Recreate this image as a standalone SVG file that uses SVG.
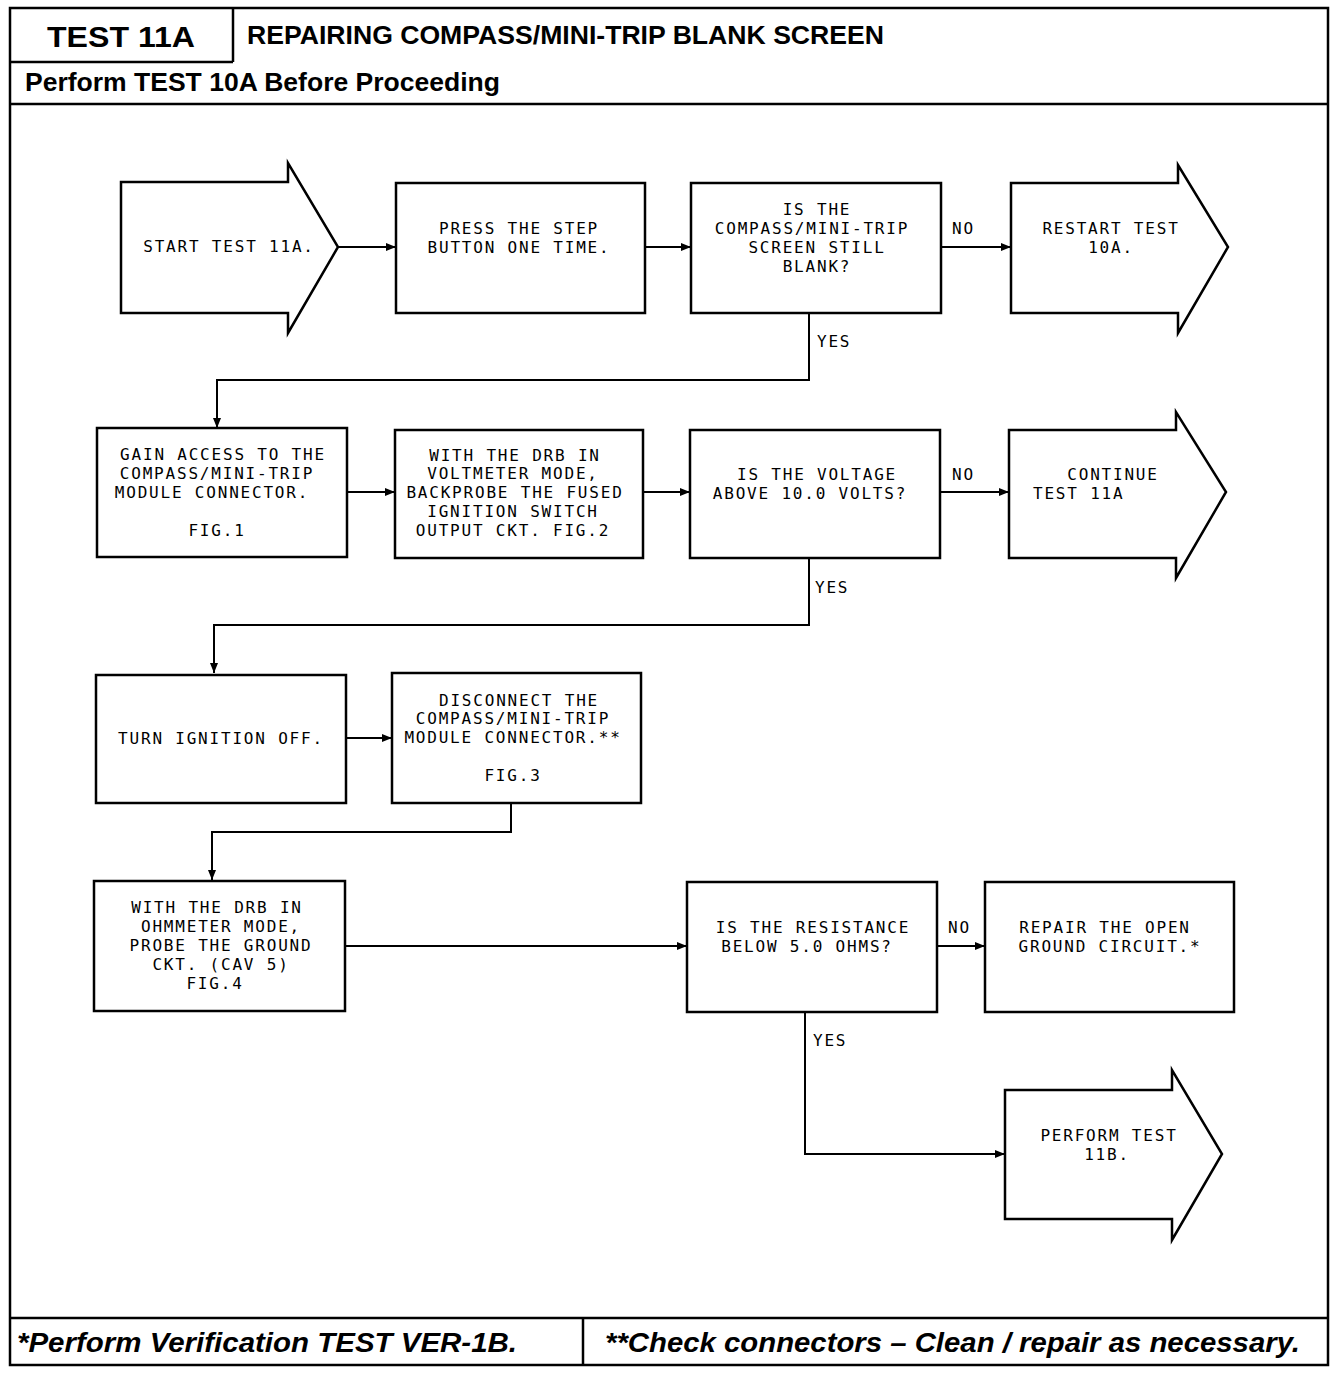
<svg xmlns="http://www.w3.org/2000/svg" width="1344" height="1374" viewBox="0 0 1344 1374">
<defs>
<marker id="ah" viewBox="0 0 10 10" refX="10" refY="5" markerWidth="10" markerHeight="10" markerUnits="userSpaceOnUse" orient="auto">
<path d="M0,1 L10,5 L0,9 Z" fill="#000"/>
</marker>
</defs>
<style>
.frame{fill:none;stroke:#000;stroke-width:2.5}
.box{fill:#fff;stroke:#000;stroke-width:2.5}
.conn{fill:none;stroke:#000;stroke-width:2}
.t{font-family:"DejaVu Sans Mono","Liberation Mono",monospace;font-size:16px;letter-spacing:1.8px;fill:#000;text-anchor:middle}
.lbl{font-family:"DejaVu Sans Mono","Liberation Mono",monospace;font-size:16px;letter-spacing:1.8px;fill:#000}
.hd{font-family:"Liberation Sans",Arial,sans-serif;font-weight:bold;fill:#000}
.ft{font-family:"Liberation Sans",Arial,sans-serif;font-weight:bold;font-style:italic;fill:#000}
</style>
<rect width="1344" height="1374" fill="#fff"/>
<g id="frame">
<rect class="frame" x="10" y="8" width="1318" height="1357"/>
<line class="frame" x1="233" y1="8" x2="233" y2="62"/>
<line class="frame" x1="10" y1="62" x2="233" y2="62"/>
<line class="frame" x1="10" y1="104" x2="1328" y2="104"/>
<line class="frame" x1="10" y1="1318" x2="1328" y2="1318"/>
<line class="frame" x1="583" y1="1318" x2="583" y2="1365"/>
<text class="hd" x="47" y="47" font-size="30" textLength="148" lengthAdjust="spacingAndGlyphs">TEST 11A</text>
<text class="hd" x="247" y="44" font-size="25" textLength="637" lengthAdjust="spacingAndGlyphs">REPAIRING COMPASS/MINI-TRIP BLANK SCREEN</text>
<text class="hd" x="25" y="91" font-size="25" textLength="475" lengthAdjust="spacingAndGlyphs">Perform TEST 10A Before Proceeding</text>
<text class="ft" x="17" y="1352" font-size="27" textLength="500" lengthAdjust="spacingAndGlyphs">*Perform Verification TEST VER-1B.</text>
<text class="ft" x="605" y="1352" font-size="27" textLength="695" lengthAdjust="spacingAndGlyphs">**Check connectors – Clean / repair as necessary.</text>
</g>
<g id="connectors">
<line class="conn" x1="338" y1="247" x2="396" y2="247" marker-end="url(#ah)"/>
<line class="conn" x1="645" y1="247" x2="691" y2="247" marker-end="url(#ah)"/>
<line class="conn" x1="941" y1="247" x2="1011" y2="247" marker-end="url(#ah)"/>
<polyline class="conn" points="809,313 809,380 217,380 217,428" marker-end="url(#ah)"/>
<line class="conn" x1="347" y1="492" x2="395" y2="492" marker-end="url(#ah)"/>
<line class="conn" x1="643" y1="492" x2="690" y2="492" marker-end="url(#ah)"/>
<line class="conn" x1="940" y1="492" x2="1009" y2="492" marker-end="url(#ah)"/>
<polyline class="conn" points="809,558 809,625 214,625 214,673" marker-end="url(#ah)"/>
<line class="conn" x1="346" y1="738" x2="392" y2="738" marker-end="url(#ah)"/>
<polyline class="conn" points="511,803 511,832 212,832 212,880" marker-end="url(#ah)"/>
<line class="conn" x1="345" y1="946" x2="687" y2="946" marker-end="url(#ah)"/>
<line class="conn" x1="937" y1="946" x2="985" y2="946" marker-end="url(#ah)"/>
<polyline class="conn" points="805,1012 805,1154 1005,1154" marker-end="url(#ah)"/>
<text class="lbl" x="952" y="234">NO</text>
<text class="lbl" x="817" y="347">YES</text>
<text class="lbl" x="952" y="480">NO</text>
<text class="lbl" x="815" y="593">YES</text>
<text class="lbl" x="948" y="933">NO</text>
<text class="lbl" x="813" y="1046">YES</text>
</g>
<g id="n1">
<path class="box" d="M121,182 H288 V163 L338,247 L288,333 V313 H121 Z"/>
<text class="t" x="229" y="252">START TEST 11A.</text>
</g>
<g id="n2">
<rect class="box" x="396" y="183" width="249" height="130"/>
<text class="t" x="519" y="234">PRESS THE STEP</text>
<text class="t" x="519" y="253">BUTTON ONE TIME.</text>
</g>
<g id="n3">
<rect class="box" x="691" y="183" width="250" height="130"/>
<text class="t" x="817" y="215">IS THE</text>
<text class="t" x="812" y="234">COMPASS/MINI-TRIP</text>
<text class="t" x="817" y="253">SCREEN STILL</text>
<text class="t" x="817" y="272">BLANK?</text>
</g>
<g id="n4">
<path class="box" d="M1011,183 H1178 V165 L1228,247 L1178,333 V313 H1011 Z"/>
<text class="t" x="1111" y="234">RESTART TEST</text>
<text class="t" x="1111" y="253">10A.</text>
</g>
<g id="n5">
<rect class="box" x="97" y="428" width="250" height="129"/>
<text class="t" x="223" y="460">GAIN ACCESS TO THE</text>
<text class="t" x="217" y="479">COMPASS/MINI-TRIP</text>
<text class="t" x="212" y="498">MODULE CONNECTOR.</text>
<text class="t" x="217" y="536">FIG.1</text>
</g>
<g id="n6">
<rect class="box" x="395" y="430" width="248" height="128"/>
<text class="t" x="515" y="461">WITH THE DRB IN</text>
<text class="t" x="513" y="479">VOLTMETER MODE,</text>
<text class="t" x="515" y="498">BACKPROBE THE FUSED</text>
<text class="t" x="513" y="517">IGNITION SWITCH</text>
<text class="t" x="513" y="536">OUTPUT CKT. FIG.2</text>
</g>
<g id="n7">
<rect class="box" x="690" y="430" width="250" height="128"/>
<text class="t" x="817" y="480">IS THE VOLTAGE</text>
<text class="t" x="810" y="499">ABOVE 10.0 VOLTS?</text>
</g>
<g id="n8">
<path class="box" d="M1009,430 H1176 V412 L1226,492 L1176,578 V558 H1009 Z"/>
<text class="t" x="1113" y="480">CONTINUE</text>
<text class="lbl" x="1033" y="499">TEST 11A</text>
</g>
<g id="n9">
<rect class="box" x="96" y="675" width="250" height="128"/>
<text class="t" x="221" y="744">TURN IGNITION OFF.</text>
</g>
<g id="n10">
<rect class="box" x="392" y="673" width="249" height="130"/>
<text class="t" x="519" y="706">DISCONNECT THE</text>
<text class="t" x="513" y="724">COMPASS/MINI-TRIP</text>
<text class="t" x="513" y="743">MODULE CONNECTOR.**</text>
<text class="t" x="513" y="781">FIG.3</text>
</g>
<g id="n11">
<rect class="box" x="94" y="881" width="251" height="130"/>
<text class="t" x="217" y="913">WITH THE DRB IN</text>
<text class="t" x="221" y="932">OHMMETER MODE,</text>
<text class="t" x="221" y="951">PROBE THE GROUND</text>
<text class="t" x="221" y="970">CKT. (CAV 5)</text>
<text class="t" x="215" y="989">FIG.4</text>
</g>
<g id="n12">
<rect class="box" x="687" y="882" width="250" height="130"/>
<text class="t" x="813" y="933">IS THE RESISTANCE</text>
<text class="t" x="807" y="952">BELOW 5.0 OHMS?</text>
</g>
<g id="n13">
<rect class="box" x="985" y="882" width="249" height="130"/>
<text class="t" x="1105" y="933">REPAIR THE OPEN</text>
<text class="t" x="1110" y="952">GROUND CIRCUIT.*</text>
</g>
<g id="n14">
<path class="box" d="M1005,1090 H1172 V1070 L1222,1154 L1172,1240 V1219 H1005 Z"/>
<text class="t" x="1109" y="1141">PERFORM TEST</text>
<text class="t" x="1107" y="1160">11B.</text>
</g>
</svg>
